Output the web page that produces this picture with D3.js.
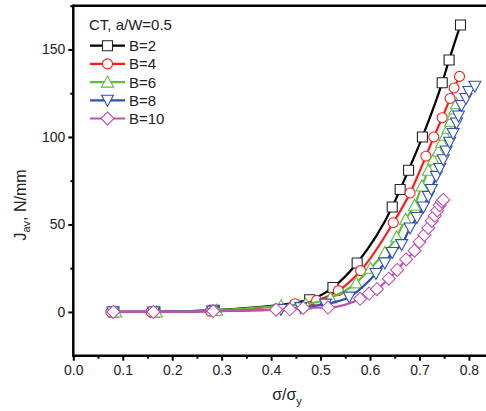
<!DOCTYPE html>
<html>
<head>
<meta charset="utf-8">
<script src="https://cdn.jsdelivr.net/npm/d3@7"></script>
<style>
  body { margin: 0; background: #fff; }
  svg { font-family: "Liberation Sans", Arial, sans-serif; }
</style>
</head>
<body>
<svg id="chart" width="486" height="411"></svg>
<script>
// series values (x = sigma/sigma_y, y = J_av)
var b2x  = [0.082, 0.165, 0.285, 0.478, 0.525, 0.574, 0.645, 0.661, 0.678, 0.706, 0.746, 0.760, 0.783];
var b2y  = [0, 0, 1, 7, 14, 28, 60, 70, 81, 100, 131, 144, 164];

var b4x  = [0.076, 0.157, 0.277, 0.448, 0.492, 0.536, 0.581, 0.647, 0.681, 0.713, 0.729, 0.746, 0.762, 0.770, 0.781];
var b4y  = [0, 0, 0.5, 4.7, 6.6, 12.2, 23.6, 51, 68, 89, 100, 111, 122, 128, 134.6];

var b6x  = [0.086, 0.168, 0.290, 0.420, 0.470, 0.520, 0.572, 0.601, 0.630, 0.654, 0.672, 0.690, 0.705, 0.718, 0.728, 0.738, 0.745, 0.752, 0.758, 0.763, 0.768, 0.772, 0.775];
var b6y  = [0, 0, 1, 3.5, 4.5, 8, 16.6, 25, 34, 43, 53, 61, 72, 81, 87, 92, 97, 101, 105, 109, 113, 116, 119];

var b8x  = [0.080, 0.162, 0.282, 0.420, 0.460, 0.510, 0.558, 0.612, 0.630, 0.645, 0.664, 0.681, 0.695, 0.708, 0.718, 0.724, 0.734, 0.741, 0.748, 0.754, 0.761, 0.768, 0.775, 0.779, 0.785, 0.794, 0.800, 0.812];
var b8y  = [0, 0, 0.5, 1.5, 2.5, 4.5, 8.5, 22, 28, 34, 38.5, 48, 54, 60, 66, 70, 77.5, 82, 87, 92, 97, 102, 108, 112, 118, 122, 126, 129];

var b10x = [0.081, 0.162, 0.283, 0.410, 0.438, 0.465, 0.515, 0.580, 0.598, 0.614, 0.638, 0.655, 0.673, 0.690, 0.700, 0.710, 0.718, 0.725, 0.731, 0.736, 0.741, 0.745, 0.748];
var b10y = [0, 0, 0.5, 1.3, 1.5, 2.3, 2.5, 7.5, 10.5, 13, 19, 24, 30, 35, 40, 44, 48, 52, 55, 58, 61, 63, 64];

var seriesNames = ["B=2", "B=4", "B=6", "B=8", "B=10"];
var xTicks = [0.0, 0.1, 0.2, 0.3, 0.4, 0.5, 0.6, 0.7, 0.8];
var yTicks = [0, 50, 100, 150];

var series = [
  { name: seriesNames[0], xs: b2x,  ys: b2y,  color: "#000000", mark: "square" },
  { name: seriesNames[1], xs: b4x,  ys: b4y,  color: "#ff1a1a", mark: "circle" },
  { name: seriesNames[2], xs: b6x,  ys: b6y,  color: "#5cbf3a", mark: "triangle" },
  { name: seriesNames[3], xs: b8x,  ys: b8y,  color: "#2f4fb5", mark: "triangleDown" },
  { name: seriesNames[4], xs: b10x, ys: b10y, color: "#c050b4", mark: "diamond" }
];

var plotLeft = 73.3, plotTop = 5.7, plotBottom = 355.7;

var x = d3.scaleLinear().domain([0, 0.85]).range([plotLeft, plotLeft + 8.5 * 49.45]);
var y = d3.scaleLinear().domain([-25, 175]).range([plotBottom, plotTop]);

var svg = d3.select("#chart");

// markers
function markerPath(type, s) {
  var h = s / 2;
  if (type == "square") return "M" + (-h) + "," + (-h) + "h" + s + "v" + s + "h" + (-s) + "Z";
  if (type == "circle") return d3.symbol().type(d3.symbolCircle).size(Math.PI * h * h)();
  if (type == "triangle") return "M0," + (-h - 1) + "L" + (h + 1) + "," + (h) + "L" + (-h - 1) + "," + (h) + "Z";
  if (type == "triangleDown") return "M0," + (h + 1) + "L" + (h + 1) + "," + (-h) + "L" + (-h - 1) + "," + (-h) + "Z";
  if (type == "diamond") return "M0," + (-h - 1.5) + "L" + (h + 1.5) + ",0L0," + (h + 1.5) + "L" + (-h - 1.5) + ",0Z";
}

var line = d3.line()
  .x(function(d) { return x(d[0]); })
  .y(function(d) { return y(d[1]); })
  .curve(d3.curveMonotoneX);

var plot = svg.append("g");

series.forEach(function(s) {
  var pts = s.xs.map(function(v, i) { return [v, s.ys[i]]; });
  var g = plot.append("g");
  g.append("path")
    .attr("d", line(pts))
    .style("fill", "none")
    .style("stroke", s.color)
    .style("stroke-width", 2.2);
  g.selectAll("path.mk")
    .data(pts)
    .enter().append("path")
    .attr("class", "mk")
    .attr("transform", function(d) { return "translate(" + x(d[0]) + "," + y(d[1]) + ")"; })
    .attr("d", markerPath(s.mark, 10))
    .style("fill", "#fff")
    .style("stroke", s.color == "#000000" ? "#222" : s.color)
    .style("stroke-width", 1.1);
});

// axes
var xAxis = d3.axisBottom(x).tickValues(xTicks).tickFormat(d3.format(".1f")).tickSize(5).tickPadding(4);
var xMinor = d3.axisBottom(x).tickValues(xTicks.map(function(t) { return t + 0.05; })).tickFormat("").tickSize(3);
var yAxis = d3.axisLeft(y).tickValues(yTicks).tickSize(5).tickPadding(3);
var yMinor = d3.axisLeft(y).tickValues([25, 75, 125, 175]).tickFormat("").tickSize(3);

function styleAxis(g) {
  g.attr("font-size", null).attr("font-family", null);
  g.select(".domain").remove();
  g.selectAll("line").style("stroke", "#000").style("stroke-width", 2);
  g.selectAll("text").style("font-size", "14px").style("fill", "#222");
}

svg.append("g").attr("transform", "translate(0," + plotBottom + ")").call(xAxis).call(styleAxis);
svg.append("g").attr("transform", "translate(0," + plotBottom + ")").call(xMinor).call(styleAxis);
svg.append("g").attr("transform", "translate(" + plotLeft + ",0)").call(yAxis).call(styleAxis);
svg.append("g").attr("transform", "translate(" + plotLeft + ",0)").call(yMinor).call(styleAxis);

// frame lines
svg.append("line").attr("x1", plotLeft).attr("x2", 486).attr("y1", plotBottom).attr("y2", plotBottom)
  .style("stroke", "#000").style("stroke-width", 2.5);
svg.append("line").attr("x1", plotLeft).attr("x2", 486).attr("y1", plotTop).attr("y2", plotTop)
  .style("stroke", "#000").style("stroke-width", 2.5);
svg.append("line").attr("x1", plotLeft).attr("x2", plotLeft).attr("y1", plotTop - 1.2).attr("y2", plotBottom + 1.2)
  .style("stroke", "#000").style("stroke-width", 2.5);

// legend
var lg = svg.append("g");
lg.append("text").attr("x", 89).attr("y", 30).style("font-size", "15px").style("fill", "#222").text("CT, a/W=0.5");
series.forEach(function(s, i) {
  var ly = 45.7 + i * 18.2;
  lg.append("line").attr("x1", 90).attr("x2", 125).attr("y1", ly).attr("y2", ly)
    .style("stroke", s.color).style("stroke-width", 2.2);
  lg.append("path").attr("transform", "translate(107.5," + ly + ")")
    .attr("d", markerPath(s.mark, 10))
    .style("fill", "#fff").style("stroke", s.color == "#000000" ? "#222" : s.color).style("stroke-width", 1.1);
  lg.append("text").attr("x", 129).attr("y", ly + 5.5).style("font-size", "15px").style("fill", "#222").text(s.name);
});

// axis titles
var yl = svg.append("text")
  .attr("transform", "translate(26,205) rotate(-90)")
  .attr("text-anchor", "middle")
  .style("font-size", "16px").style("fill", "#222");
yl.append("tspan").text("J");
yl.append("tspan").attr("dy", 4).style("font-size", "11px").text("av");
yl.append("tspan").attr("dy", -4).text(", N/mm");

var xl = svg.append("text")
  .attr("x", 287).attr("y", 400)
  .attr("text-anchor", "middle")
  .style("font-size", "16px").style("fill", "#222");
xl.append("tspan").text("σ/σ");
xl.append("tspan").attr("dy", 5).style("font-size", "11px").text("y");
</script>
</body>
</html>
